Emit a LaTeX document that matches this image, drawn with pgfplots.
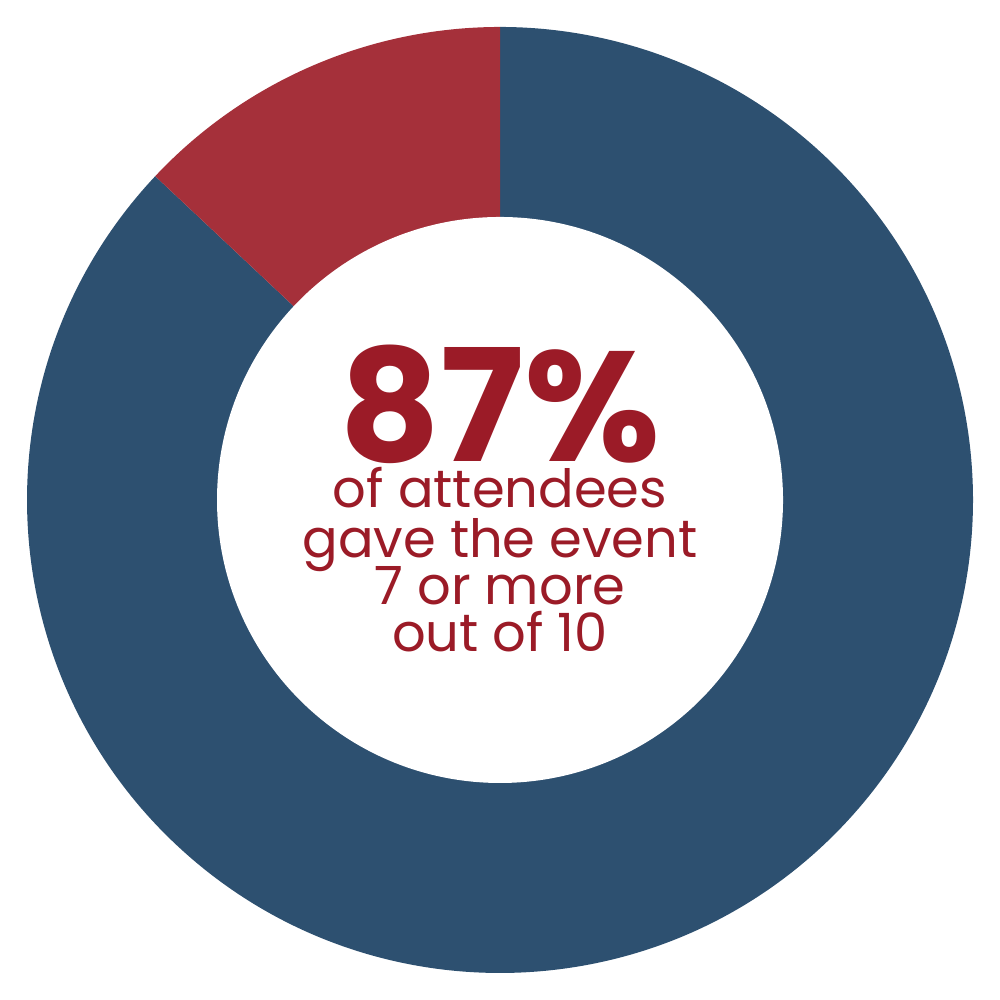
\documentclass[border=0pt]{standalone}
\usepackage{pgfplots}
\usepackage{pgfplotstable}
\pgfplotsset{compat=1.18}
\usepackage{fontspec}
\setmainfont{Poppins}
\definecolor{ringblue}{HTML}{2D5070}
\definecolor{ringred}{HTML}{A5303A}
\definecolor{txtred}{HTML}{9B1B27}
\pgfplotstableread{
label value
Yes 87
No 13
}\datatbl
\begin{document}
\begin{tikzpicture}
\useasboundingbox (0,0) rectangle (10cm,10cm);
\pgfplotstablegetelem{1}{value}\of\datatbl
\pgfmathsetmacro{\aend}{90+3.6*\pgfplotsretval}
\begin{axis}[hide axis, at={(0,0)}, anchor=south west, x=1cm, y=1cm, xmin=-5, xmax=5, ymin=-5, ymax=5,
  scale only axis, clip=false]
\addplot[draw=none] coordinates {(-5,-5) (5,5)};
\fill[ringblue] (axis cs:0,0) -- ++(\aend:4.73cm) arc[start angle=\aend, end angle=450, radius=4.73cm] -- cycle;
\fill[ringred] (axis cs:0,0) -- ++(90:4.73cm) arc[start angle=90, end angle=\aend, radius=4.73cm] -- cycle;
\fill[white] (axis cs:0,0) circle[radius=2.83cm];
\node[anchor=base, text=txtred, inner sep=0pt, font=\fontsize{44.5}{44.5}\selectfont\bfseries] at (axis cs:0,0.38) {87\%};
\node[anchor=base, text=txtred, inner sep=0pt, font=\fontsize{15}{15}\selectfont] at (axis cs:0,-0.08) {of attendees};
\node[anchor=base, text=txtred, inner sep=0pt, font=\fontsize{15}{15}\selectfont] at (axis cs:0,-0.58) {gave the event};
\node[anchor=base, text=txtred, inner sep=0pt, font=\fontsize{15}{15}\selectfont] at (axis cs:0,-1.05) {7 or more};
\node[anchor=base, text=txtred, inner sep=0pt, font=\fontsize{15}{15}\selectfont] at (axis cs:0,-1.52) {out of 10};
\end{axis}
\end{tikzpicture}
\end{document}
